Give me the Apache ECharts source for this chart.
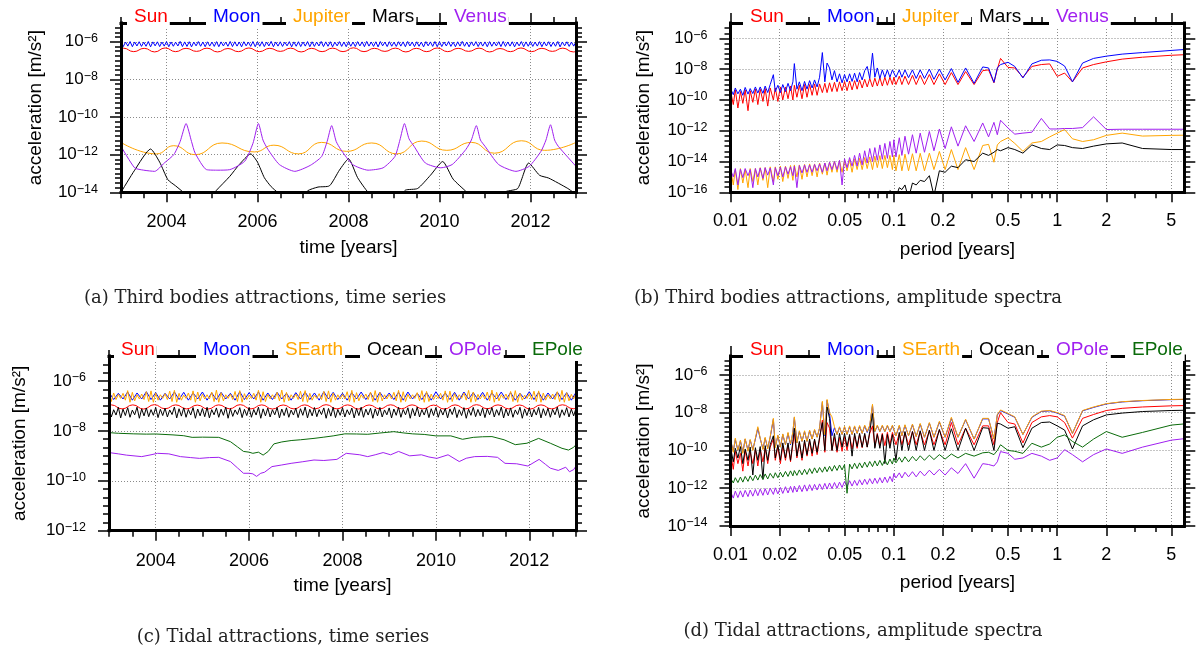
<!DOCTYPE html>
<html>
<head>
<meta charset="utf-8">
<script src="https://cdn.jsdelivr.net/npm/echarts@6/dist/echarts.min.js"></script>
<style>
html,body{margin:0;padding:0;background:#fff;}
#chart{width:1199px;height:653px;}
</style>
</head>
<body>
<div id="chart"></div>
<script>
// ---------------------------------------------------------------------------
// Time series (a) and (c). Fast series are sampled every FAST_DT years from
// 2003.0, the slow Moon trace of (c) every SLOW_DT years.
// ---------------------------------------------------------------------------
const T_START = 2003;
const FAST_DT = 0.05;
const SLOW_DT = 0.1;

// (a) Moon, m/s^2
const moonA = [
  1e-6,5.6e-7,9.7e-7,5.9e-7,1.03e-6,5.5e-7,9.8e-7,6e-7,1.01e-6,5.7e-7,9.6e-7,5.8e-7,1.04e-6,5.4e-7,9.9e-7,6.1e-7,1e-6,5.6e-7,9.7e-7,5.9e-7,
  1.02e-6,5.5e-7,9.8e-7,5.8e-7,9.6e-7,6e-7,1.05e-6,5.6e-7,9.9e-7,5.7e-7,1.01e-6,5.4e-7,9.7e-7,6.1e-7,1.03e-6,5.8e-7,9.8e-7,5.5e-7,1e-6,5.9e-7,
  9.7e-7,5.7e-7,1.02e-6,5.5e-7,9.9e-7,6e-7,9.6e-7,5.8e-7,1.04e-6,5.6e-7,1e-6,5.9e-7,9.8e-7,5.4e-7,1.01e-6,6.1e-7,9.7e-7,5.7e-7,1.03e-6,5.5e-7,
  9.9e-7,5.8e-7,1.01e-6,5.6e-7,9.7e-7,6e-7,1.05e-6,5.5e-7,9.8e-7,5.9e-7,1e-6,5.7e-7,9.6e-7,6.1e-7,1.02e-6,5.4e-7,9.9e-7,5.8e-7,1.01e-6,5.6e-7,
  9.8e-7,5.9e-7,1.03e-6,5.5e-7,1e-6,5.7e-7,9.7e-7,6e-7,1.04e-6,5.6e-7,9.9e-7,5.8e-7,1.01e-6,5.4e-7,9.6e-7,6.1e-7,1.02e-6,5.7e-7,9.8e-7,5.5e-7,
  1e-6,5.8e-7,9.7e-7,5.6e-7,1.02e-6,6e-7,9.9e-7,5.5e-7,1.05e-6,5.9e-7,9.8e-7,5.7e-7,1e-6,5.4e-7,1.03e-6,6.1e-7,9.7e-7,5.6e-7,1.01e-6,5.8e-7,
  9.6e-7,5.7e-7,1.01e-6,5.9e-7,9.9e-7,5.5e-7,1.04e-6,6e-7,9.8e-7,5.6e-7,1e-6,5.8e-7,9.7e-7,5.4e-7,1.02e-6,6.1e-7,9.9e-7,5.7e-7,1.03e-6,5.5e-7,
  1.01e-6,5.6e-7,9.8e-7,6e-7,1.03e-6,5.7e-7,9.6e-7,5.5e-7,1e-6,5.9e-7,1.05e-6,5.8e-7,9.7e-7,5.4e-7,9.9e-7,6.1e-7,1.02e-6,5.6e-7,9.8e-7,5.9e-7,
  9.9e-7,5.5e-7,1.02e-6,5.8e-7,9.7e-7,6e-7,1.01e-6,5.6e-7,1.04e-6,5.7e-7,9.8e-7,5.9e-7,1e-6,5.4e-7,9.6e-7,6.1e-7,1.03e-6,5.5e-7,9.9e-7,5.8e-7,
  1e-6,5.7e-7,9.7e-7,5.9e-7,1.02e-6,5.5e-7,9.9e-7,6e-7,1.01e-6,5.6e-7,9.6e-7,5.8e-7,1.04e-6,5.4e-7,9.8e-7,6.1e-7,1e-6,5.7e-7,9.7e-7,5.9e-7,
  1.01e-6
];

// (a) Sun, [year, m/s^2]
const sunA = [
  [2003.00,4.4e-7],[2003.05,4.6e-7],[2003.28,3.0e-7],[2003.51,4.5e-7],[2003.74,2.9e-7],[2003.97,4.7e-7],[2004.20,3.0e-7],[2004.43,4.5e-7],
  [2004.66,3.1e-7],[2004.89,4.6e-7],[2005.12,2.9e-7],[2005.35,4.4e-7],[2005.58,3.0e-7],[2005.81,4.7e-7],[2006.04,3.0e-7],[2006.27,4.5e-7],
  [2006.50,3.1e-7],[2006.73,4.6e-7],[2006.96,2.9e-7],[2007.19,4.5e-7],[2007.42,3.0e-7],[2007.65,4.6e-7],[2007.88,3.0e-7],[2008.11,4.8e-7],
  [2008.34,3.0e-7],[2008.57,4.5e-7],[2008.80,3.1e-7],[2009.03,4.6e-7],[2009.26,2.9e-7],[2009.49,4.5e-7],[2009.72,3.0e-7],[2009.95,4.7e-7],
  [2010.18,3.0e-7],[2010.41,4.5e-7],[2010.64,3.1e-7],[2010.87,4.6e-7],[2011.10,2.9e-7],[2011.33,4.4e-7],[2011.56,3.0e-7],[2011.79,4.7e-7],
  [2012.02,3.0e-7],[2012.25,4.5e-7],[2012.48,3.1e-7],[2012.71,4.6e-7],[2012.94,2.9e-7],[2013.00,3.1e-7]
];

// (a) Jupiter
const jupiterA = [
  [2003.0,4.5e-12],[2003.78,1.1e-12],[2004.16,3.0e-12],[2004.63,1.0e-12],[2005.22,4.2e-12],[2005.93,1.4e-12],[2006.36,3.2e-12],
  [2006.9,1.1e-12],[2007.41,4.5e-12],[2007.96,1.5e-12],[2008.51,4.2e-12],[2009.06,1.1e-12],[2009.61,5.3e-12],[2010.16,1.7e-12],
  [2010.7,4.5e-12],[2011.21,1.2e-12],[2011.8,5.5e-12],[2012.31,1.7e-12],[2013.0,4.5e-12]
];

// (a) Mars
const marsA = [
  [2003.0,1e-14],[2003.3,1.5e-13],[2003.65,2e-12],[2003.85,4e-13],[2004.03,4.7e-14],[2004.2,2.2e-14],[2004.35,1.1e-14],[2004.5,5e-15],
  [2004.95,5e-15],[2005.1,1.3e-14],[2005.39,7e-14],[2005.6,3e-13],[2005.85,1.1e-12],[2006.0,4e-13],[2006.15,6e-14],[2006.3,2e-14],
  [2006.44,1e-14],[2006.6,5e-15],[2007.0,5e-15],[2007.1,1.2e-14],[2007.33,1.9e-14],[2007.58,2.2e-14],[2007.8,1.5e-13],[2008.0,6e-13],
  [2008.2,6e-14],[2008.43,1e-14],[2008.6,5e-15],[2009.1,5e-15],[2009.25,1.3e-14],[2009.52,1.6e-14],[2009.8,8e-14],[2010.07,4.3e-13],
  [2010.3,5e-14],[2010.6,1e-14],[2010.7,5e-15],[2011.3,5e-15],[2011.46,1.1e-14],[2011.72,1.6e-14],[2011.96,3.6e-13],[2012.2,8e-14],
  [2012.4,5.7e-14],[2012.82,1.6e-14],[2012.94,1e-14],[2013.0,8e-15]
];

// (a) Venus
const venusA = [
  [2003.0,2.8e-12],[2003.3,2e-13],[2003.5,1.5e-13],[2003.74,1.3e-13],[2003.95,3.6e-13],[2004.16,1e-12],[2004.3,5e-12],[2004.43,4.5e-11],
  [2004.55,5e-12],[2004.63,1.2e-12],[2004.88,1.6e-13],[2005.13,1.5e-13],[2005.39,1.6e-13],[2005.72,4.5e-13],[2005.9,4e-12],[2006.02,4.5e-11],
  [2006.12,6e-12],[2006.23,1.9e-12],[2006.48,3e-13],[2006.82,1.3e-13],[2007.16,2.7e-13],[2007.41,8e-13],[2007.53,5e-12],[2007.63,3.5e-11],
  [2007.73,5e-12],[2007.83,1.9e-12],[2008.09,3e-13],[2008.43,1.5e-13],[2008.76,2e-13],[2009.02,8e-13],[2009.13,6e-12],[2009.23,4.5e-11],
  [2009.33,7e-12],[2009.44,2.8e-12],[2009.69,3.6e-13],[2010.03,2e-13],[2010.28,3e-13],[2010.58,1.9e-12],[2010.7,6e-12],[2010.81,3.5e-11],
  [2010.9,6e-12],[2011.0,2.8e-12],[2011.3,3e-13],[2011.68,1.3e-13],[2011.97,2.4e-13],[2012.23,1.5e-12],[2012.34,6e-12],[2012.44,3.9e-11],
  [2012.53,6e-12],[2012.61,2.8e-12],[2013.0,2.4e-13]
];

// (c) Sun
const sunC = [
  [2003.00,1.05e-7],[2003.05,1.1e-7],[2003.28,7.6e-8],[2003.51,1.1e-7],[2003.74,7.5e-8],[2003.97,1.12e-7],[2004.20,7.7e-8],[2004.43,1.1e-7],
  [2004.66,7.6e-8],[2004.89,1.08e-7],[2005.12,7.5e-8],[2005.35,1.1e-7],[2005.58,7.7e-8],[2005.81,1.12e-7],[2006.04,7.6e-8],[2006.27,1.1e-7],
  [2006.50,7.5e-8],[2006.73,1.09e-7],[2006.96,7.6e-8],[2007.19,1.1e-7],[2007.42,7.7e-8],[2007.65,1.12e-7],[2007.88,7.6e-8],[2008.11,1.1e-7],
  [2008.34,7.5e-8],[2008.57,1.09e-7],[2008.80,7.6e-8],[2009.03,1.11e-7],[2009.26,7.7e-8],[2009.49,1.1e-7],[2009.72,7.6e-8],[2009.95,1.08e-7],
  [2010.18,7.5e-8],[2010.41,1.1e-7],[2010.64,7.6e-8],[2010.87,1.12e-7],[2011.10,7.7e-8],[2011.33,1.1e-7],[2011.56,7.6e-8],[2011.79,1.09e-7],
  [2012.02,7.5e-8],[2012.25,1.1e-7],[2012.48,7.6e-8],[2012.71,1.11e-7],[2012.94,7.7e-8],[2013.00,8.2e-8]
];

// (c) Moon, every SLOW_DT years
const moonC = [
  3.5e-7,1.8e-7,3.2e-7,1.9e-7,3.6e-7,1.7e-7,3.3e-7,1.9e-7,3.7e-7,1.8e-7,3.4e-7,1.7e-7,3.2e-7,1.9e-7,3.6e-7,1.8e-7,3.5e-7,1.7e-7,3.3e-7,1.9e-7,
  3.6e-7,1.7e-7,3.3e-7,1.8e-7,3.5e-7,1.9e-7,3.2e-7,1.7e-7,3.7e-7,1.8e-7,3.4e-7,1.9e-7,3.6e-7,1.7e-7,3.3e-7,1.8e-7,3.5e-7,1.9e-7,3.2e-7,1.7e-7,
  3.4e-7,1.9e-7,3.6e-7,1.8e-7,3.3e-7,1.7e-7,3.7e-7,1.9e-7,3.5e-7,1.8e-7,3.2e-7,1.7e-7,3.4e-7,1.9e-7,3.6e-7,1.8e-7,3.3e-7,1.7e-7,3.5e-7,1.9e-7,
  3.3e-7,1.8e-7,3.5e-7,1.7e-7,3.6e-7,1.9e-7,3.2e-7,1.8e-7,3.4e-7,1.7e-7,3.7e-7,1.9e-7,3.3e-7,1.8e-7,3.5e-7,1.7e-7,3.6e-7,1.9e-7,3.4e-7,1.8e-7,
  3.5e-7,1.7e-7,3.3e-7,1.9e-7,3.6e-7,1.8e-7,3.4e-7,1.7e-7,3.2e-7,1.9e-7,3.7e-7,1.8e-7,3.5e-7,1.7e-7,3.3e-7,1.9e-7,3.6e-7,1.8e-7,3.4e-7,1.7e-7,
  3.5e-7
];

// (c) solid Earth tide, every FAST_DT years
const searthC = [
  3.9e-7,1.5e-7,3.3e-7,1.8e-7,2.9e-7,2.0e-7,3.2e-7,1.7e-7,4.1e-7,1.4e-7,3.5e-7,1.6e-7,2.8e-7,1.9e-7,3.0e-7,1.8e-7,3.7e-7,1.5e-7,4.0e-7,1.4e-7,
  3.3e-7,1.7e-7,2.8e-7,2.0e-7,3.1e-7,1.8e-7,3.9e-7,1.5e-7,4.2e-7,1.4e-7,3.2e-7,1.7e-7,2.7e-7,2.0e-7,3.3e-7,1.7e-7,4.0e-7,1.4e-7,3.6e-7,1.6e-7,
  2.9e-7,1.9e-7,2.8e-7,1.9e-7,3.6e-7,1.5e-7,4.3e-7,1.4e-7,3.4e-7,1.6e-7,2.8e-7,2.0e-7,3.0e-7,1.8e-7,3.8e-7,1.5e-7,4.1e-7,1.4e-7,3.1e-7,1.8e-7,
  2.7e-7,2.0e-7,3.2e-7,1.7e-7,4.2e-7,1.4e-7,3.7e-7,1.5e-7,2.9e-7,1.9e-7,2.8e-7,1.9e-7,3.5e-7,1.6e-7,4.3e-7,1.4e-7,3.5e-7,1.6e-7,2.8e-7,2.0e-7,
  3.0e-7,1.8e-7,3.9e-7,1.5e-7,4.1e-7,1.4e-7,3.2e-7,1.7e-7,2.7e-7,2.0e-7,3.1e-7,1.8e-7,3.8e-7,1.5e-7,4.0e-7,1.4e-7,3.3e-7,1.7e-7,2.8e-7,1.9e-7,
  2.9e-7,1.9e-7,3.7e-7,1.5e-7,4.2e-7,1.4e-7,3.4e-7,1.6e-7,2.8e-7,2.0e-7,3.0e-7,1.8e-7,3.6e-7,1.5e-7,4.1e-7,1.4e-7,3.5e-7,1.6e-7,2.8e-7,1.9e-7,
  2.9e-7,1.9e-7,3.5e-7,1.6e-7,4.2e-7,1.4e-7,3.7e-7,1.5e-7,2.9e-7,1.9e-7,2.8e-7,2.0e-7,3.4e-7,1.6e-7,4.1e-7,1.4e-7,3.8e-7,1.5e-7,3.0e-7,1.8e-7,
  2.7e-7,2.0e-7,3.2e-7,1.7e-7,4.0e-7,1.4e-7,3.9e-7,1.5e-7,3.1e-7,1.8e-7,2.8e-7,2.0e-7,3.3e-7,1.7e-7,4.2e-7,1.4e-7,3.6e-7,1.5e-7,2.9e-7,1.9e-7,
  2.8e-7,1.9e-7,3.6e-7,1.6e-7,4.3e-7,1.4e-7,3.5e-7,1.6e-7,2.8e-7,2.0e-7,3.0e-7,1.8e-7,3.8e-7,1.5e-7,4.1e-7,1.4e-7,3.2e-7,1.7e-7,2.7e-7,2.0e-7,
  3.1e-7,1.8e-7,3.9e-7,1.5e-7,4.0e-7,1.4e-7,3.3e-7,1.7e-7,2.8e-7,1.9e-7,3.0e-7,1.8e-7,3.7e-7,1.5e-7,4.2e-7,1.4e-7,3.4e-7,1.6e-7,2.9e-7,1.9e-7,
  3.2e-7
];

// (c) ocean tide, every FAST_DT years
const oceanC = [
  8.2e-8,3.6e-8,7e-8,4.3e-8,8.8e-8,3.3e-8,7.4e-8,4.1e-8,8.5e-8,3.5e-8,6.8e-8,4.4e-8,8.9e-8,3.2e-8,7.6e-8,4e-8,8.3e-8,3.7e-8,7.1e-8,4.2e-8,
  8.7e-8,3.4e-8,7.3e-8,4.1e-8,8.1e-8,3.6e-8,6.9e-8,4.5e-8,9e-8,3.3e-8,7.7e-8,3.9e-8,8.4e-8,3.5e-8,7.2e-8,4.3e-8,8.6e-8,3.2e-8,7.5e-8,4e-8,
  7.9e-8,3.7e-8,8.8e-8,3.3e-8,7.1e-8,4.4e-8,8.3e-8,3.5e-8,7.4e-8,4.2e-8,9e-8,3.2e-8,7.8e-8,3.8e-8,6.9e-8,4.5e-8,8.5e-8,3.4e-8,7.3e-8,4.1e-8,
  8.6e-8,3.5e-8,7.2e-8,4.3e-8,8.9e-8,3.2e-8,7.6e-8,4e-8,8.2e-8,3.6e-8,7e-8,4.4e-8,8.7e-8,3.3e-8,7.5e-8,4.1e-8,8.4e-8,3.5e-8,6.8e-8,4.3e-8,
  8.1e-8,3.4e-8,7.7e-8,4.2e-8,9e-8,3.3e-8,7.3e-8,4e-8,8.6e-8,3.7e-8,7.1e-8,4.5e-8,8.3e-8,3.2e-8,7.9e-8,3.9e-8,8.8e-8,3.4e-8,7.2e-8,4.2e-8,
  8.5e-8,3.6e-8,7e-8,4.4e-8,8.2e-8,3.3e-8,7.8e-8,4.1e-8,8.9e-8,3.5e-8,7.4e-8,4.3e-8,8.1e-8,3.2e-8,7.6e-8,4e-8,8.7e-8,3.6e-8,6.9e-8,4.4e-8,
  8.3e-8,3.3e-8,7.5e-8,4.2e-8,8.8e-8,3.5e-8,7.2e-8,4.4e-8,8.4e-8,3.2e-8,7.9e-8,4e-8,9e-8,3.6e-8,7.1e-8,4.3e-8,8.2e-8,3.4e-8,7.7e-8,4.1e-8,
  8.6e-8,3.5e-8,7.3e-8,4.3e-8,8e-8,3.3e-8,7.6e-8,4.5e-8,8.9e-8,3.4e-8,7e-8,4.1e-8,8.5e-8,3.2e-8,7.4e-8,4.2e-8,8.7e-8,3.7e-8,7.2e-8,4e-8,
  8.2e-8,3.4e-8,7.8e-8,4.4e-8,8.6e-8,3.6e-8,7.1e-8,4.2e-8,9e-8,3.3e-8,7.5e-8,4e-8,8.3e-8,3.5e-8,6.9e-8,4.5e-8,8.8e-8,3.2e-8,7.6e-8,4.1e-8,
  8.4e-8,3.6e-8,7.2e-8,4.3e-8,8.7e-8,3.3e-8,7.7e-8,4.1e-8,8.1e-8,3.5e-8,7.3e-8,4.4e-8,8.9e-8,3.4e-8,7e-8,4.2e-8,8.5e-8,3.6e-8,7.4e-8,4e-8,
  8e-8
];

// (c) ocean pole tide
const opoleC = [
  [2003.0,1.35e-9],[2003.2,1.2e-9],[2003.37,1.07e-9],[2003.7,9.3e-10],[2003.9,1.1e-9],[2004.04,1.26e-9],[2004.28,1.2e-9],[2004.53,9.3e-10],
  [2004.75,8.5e-10],[2004.94,7.9e-10],[2005.15,8.5e-10],[2005.35,8.7e-10],[2005.6,5.9e-10],[2005.75,3.3e-10],[2005.88,2e-10],[2006.0,2e-10],
  [2006.08,1.9e-10],[2006.16,1.5e-10],[2006.25,2e-10],[2006.33,2.2e-10],[2006.49,3.7e-10],[2006.7,4.3e-10],[2006.9,5e-10],[2007.15,5.8e-10],
  [2007.39,6.8e-10],[2007.6,6.5e-10],[2007.88,7.2e-10],[2008.08,1.26e-9],[2008.37,1.1e-9],[2008.54,9.3e-10],[2008.7,1.1e-9],[2008.87,1.35e-9],
  [2009.03,1.1e-9],[2009.2,1.5e-9],[2009.44,1e-9],[2009.69,1.1e-9],[2009.85,9e-10],[2010.02,7.9e-10],[2010.26,1.1e-9],[2010.5,5.9e-10],
  [2010.65,8e-10],[2010.83,9.3e-10],[2011.1,9.5e-10],[2011.32,8.7e-10],[2011.48,5e-10],[2011.73,4.8e-10],[2011.97,3.9e-10],[2012.21,7.2e-10],
  [2012.35,4.5e-10],[2012.45,3.2e-10],[2012.62,2.6e-10],[2012.78,3.5e-10],[2012.86,2.3e-10],[2012.95,2.8e-10],[2013.0,3.9e-10]
];

// (c) solid Earth pole tide
const epoleC = [
  [2003.0,8.5e-9],[2003.2,8.0e-9],[2003.53,7.6e-9],[2003.8,7.4e-9],[2004.0,7.5e-9],[2004.37,6.9e-9],[2004.6,6.4e-9],[2004.78,5.5e-9],
  [2005.0,5.6e-9],[2005.35,5.5e-9],[2005.6,3.7e-9],[2005.75,2.3e-9],[2005.88,1.5e-9],[2006.0,1.4e-9],[2006.08,1.26e-9],[2006.2,1.4e-9],
  [2006.3,1.07e-9],[2006.41,1.5e-9],[2006.53,3e-9],[2006.7,3.6e-9],[2006.9,4.1e-9],[2007.1,4.4e-9],[2007.39,5e-9],[2007.6,5.6e-9],
  [2007.8,6.3e-9],[2008.05,7.6e-9],[2008.3,7.5e-9],[2008.54,7.3e-9],[2008.8,8.2e-9],[2009.1,9.3e-9],[2009.3,8.3e-9],[2009.5,7.6e-9],
  [2009.75,7.2e-9],[2010.0,6.3e-9],[2010.32,6.3e-9],[2010.57,4.6e-9],[2010.8,5.5e-9],[2011.0,5.8e-9],[2011.2,5.9e-9],[2011.46,4.4e-9],
  [2011.7,2.8e-9],[2011.95,3.2e-9],[2012.2,5e-9],[2012.45,3.2e-9],[2012.7,2e-9],[2012.84,1.7e-9],[2012.95,2.2e-9],[2013.0,2.8e-9]
];

// ---------------------------------------------------------------------------
// Amplitude spectra (b) and (d): periods in years, shared by every series.
// ---------------------------------------------------------------------------
const PERIOD_FINE = [
  0.0100,0.0104,0.0107,0.0111,0.0115,0.0119,0.0123,0.0128,0.0132,0.0137,0.0142,
  0.0147,0.0152,0.0158,0.0163,0.0169,0.0175,0.0183,0.0188,0.0195,0.0202,0.0209,
  0.0217,0.0225,0.0233,0.0241,0.0246,0.0255,0.0264,0.0274,0.0284,0.0294,0.0305,
  0.0316,0.0327,0.0339,0.0351,0.0365,0.0378,0.0390,0.0404,0.0418,0.0433,0.0449,
  0.0465,0.0482,0.0499,0.0517,0.0536,0.0555,0.0575,0.0596,0.0617,0.0640,0.0663,
  0.0687,0.0712,0.0740,0.0765,0.0792,0.0821,0.0850,0.0881,0.0913,0.0946,0.0980
];
const PERIOD_COARSE = [
  0.100,0.103,0.108,0.112,0.117,0.123,0.130,0.137,0.145,0.154,
  0.165,0.176,0.190,0.206,0.225,0.247,0.275,0.310,0.350,0.380,
  0.410,0.430,0.450,0.500,0.550,0.617,0.700,0.800,0.900,1.000,
  1.110,1.240,1.430,1.670,2.000,2.500,3.330,5.000,10.00
];

// (b) third bodies
const sunB_fine = [
  4e-10,5e-11,4.5e-10,3e-11,3.5e-10,6e-11,4.5e-10,2e-11,4e-10,7e-11,5e-10,
  5e-11,5e-10,8e-11,5.5e-10,4e-11,6e-10,1e-10,6e-10,8e-11,7e-10,1e-10,
  7e-10,1.2e-10,8e-10,1e-10,9e-10,1.5e-10,9e-10,1.2e-10,1e-9,1.5e-10,1e-9,
  2e-10,1.1e-9,2e-10,1.1e-9,3e-10,1.2e-9,3e-10,1.3e-9,3.5e-10,1.4e-9,3.5e-10,
  1.5e-9,4e-10,1.6e-9,4e-10,1.7e-9,4.5e-10,1.8e-9,5e-10,2e-9,6e-10,2.2e-9,
  7e-10,2.5e-9,7e-10,2.6e-9,8e-10,2.8e-9,8e-10,3e-9,9e-10,3e-9,1e-9
];
const sunB_coarse = [
  3e-9,1e-9,3.5e-9,1e-9,3.5e-9,1e-9,4e-9,1e-9,4e-9,1e-9,
  4.5e-9,1e-9,5e-9,1e-9,6e-9,1e-9,7e-9,1e-9,8e-9,9e-9,
  1.3e-9,1e-8,5e-8,1.3e-8,1.2e-8,3e-9,1.5e-8,2e-8,2.2e-8,3.4e-9,
  5.6e-9,1.5e-9,1.2e-8,2e-8,3e-8,4.5e-8,6e-8,8e-8,1.1e-7
];
const moonB_fine = [
  5.5e-10,2.2e-10,6e-10,2.5e-10,5e-10,2e-10,6.5e-10,2.4e-10,5.5e-10,2.6e-10,7e-10,
  2.8e-10,7e-10,2.7e-10,8e-10,3e-10,1e-9,4.4e-9,3.5e-10,9e-10,3e-10,1e-9,
  3.5e-10,1.2e-9,4e-10,1.5e-9,2.3e-8,5e-10,1.5e-9,4e-10,1.6e-9,5e-10,1.8e-9,
  6e-10,2e-9,7e-10,3e-9,1.2e-7,1.5e-9,2.5e-8,1.2e-8,2e-9,8e-9,1.5e-9,
  5e-9,1.3e-9,4.5e-9,1.5e-9,5e-9,1.6e-9,5.5e-9,1.5e-9,6e-9,2e-9,8e-9,
  1.5e-8,2.5e-9,1.1e-7,3e-9,1.2e-8,2.5e-9,9e-9,3e-9,9e-9,3e-9,9e-9
];
const moonB_coarse = [
  8e-9,3e-9,9e-9,3e-9,9e-9,2.8e-9,9e-9,2.5e-9,9e-9,2.5e-9,
  1e-8,2.2e-9,1e-8,2e-9,1.1e-8,1.4e-9,1.2e-8,1.2e-9,1.4e-8,1.2e-8,
  1.4e-9,1.2e-8,2e-8,2.8e-8,1.5e-8,2.7e-9,2.2e-8,3.8e-8,4e-8,3.2e-8,
  1.6e-8,1.5e-9,2.5e-8,5e-8,7e-8,9.5e-8,1.2e-7,1.65e-7,2.8e-7
];
const jupiterB_fine = [
  3.5e-15,3e-16,3e-15,1.5e-16,3.5e-15,4e-16,3e-15,2e-16,3.5e-15,5e-16,3.5e-15,
  3e-16,4e-15,6e-16,4e-15,2e-16,4.5e-15,5e-16,4.5e-15,7e-16,5e-15,5e-16,
  5e-15,8e-16,5.5e-15,6e-16,6e-15,1e-15,6e-15,7e-16,6.5e-15,1e-15,7e-15,
  1.2e-15,7e-15,1e-15,8e-15,1.5e-15,8e-15,1.3e-15,9e-15,2e-15,1e-14,2e-15,
  1.1e-14,2e-15,1.2e-14,2.5e-15,1.3e-14,2e-15,1.5e-14,3e-15,1.6e-14,3e-15,1.8e-14,
  3.5e-15,2e-14,3e-15,2.2e-14,4e-15,2.4e-14,3.5e-15,2.5e-14,4e-15,2.5e-14,3e-15
];
const jupiterB_coarse = [
  2.5e-14,2.5e-15,2.8e-14,2.5e-15,3e-14,2.5e-15,3.2e-14,2.5e-15,3.4e-14,2.5e-15,
  3.5e-14,3e-15,4.5e-14,3e-15,6e-14,3e-15,8e-14,3e-15,1.1e-13,1.3e-13,
  9e-15,1.2e-13,2e-13,3.5e-13,1.5e-13,4.6e-14,1.6e-13,2e-13,4e-13,7e-13,
  1.2e-12,3e-13,2e-13,2.6e-13,5e-13,7e-13,4.5e-13,5e-13,5.5e-13
];
const marsB_fine = [
  5e-17,5e-17,5e-17,5e-17,5e-17,5e-17,5e-17,5e-17,5e-17,5e-17,5e-17,
  5e-17,5e-17,5e-17,5e-17,5e-17,5e-17,5e-17,5e-17,5e-17,5e-17,5e-17,
  5e-17,5e-17,5e-17,5e-17,5e-17,5e-17,5e-17,5e-17,5e-17,5e-17,5e-17,
  5e-17,5e-17,5e-17,5e-17,5e-17,5e-17,5e-17,5e-17,5e-17,5e-17,5e-17,
  5e-17,5e-17,5e-17,5e-17,5e-17,5e-17,5e-17,5e-17,5e-17,8e-17,1.05e-16,
  6e-17,5e-17,8e-17,5e-17,7e-17,1.1e-16,6e-17,1.2e-16,8e-17,1.3e-16,9e-17
];
const marsB_coarse = [
  1.2e-16,5e-17,2e-16,1.5e-16,3e-16,4e-17,4e-16,3e-16,6e-16,5e-16,
  1.2e-15,6e-17,2.5e-15,2e-15,5e-15,4e-15,1.3e-14,1e-14,3.5e-14,2.5e-14,
  4e-14,6e-14,5e-14,8e-14,6e-14,3.5e-14,1.2e-13,7e-14,6e-14,1.2e-13,
  1.1e-13,8e-14,7e-14,1e-13,1.4e-13,1.6e-13,7e-14,6e-14,6e-14
];
const venusB_fine = [
  3e-15,1e-15,3.5e-15,3e-16,3.2e-15,9e-16,3.5e-15,1.2e-15,3e-15,2e-16,3.5e-15,
  1e-15,3.8e-15,8e-16,4e-15,1.3e-15,3.8e-15,3e-16,4e-15,1.2e-15,4.2e-15,1e-15,
  4.5e-15,1.5e-15,4.5e-15,1.2e-15,5e-15,2e-16,5.5e-15,1.8e-15,6e-15,2e-15,6e-15,
  2e-15,6.5e-15,2.5e-15,7e-15,2e-15,8e-15,2.5e-15,9e-15,3e-15,1e-14,3e-15,
  1.2e-14,3e-16,1.5e-14,4e-15,1.8e-14,5e-15,2.5e-14,5e-15,3.5e-14,6e-15,5e-14,
  8e-15,7e-14,1e-14,8e-14,1.2e-14,1.2e-13,1.4e-14,1.5e-13,1.6e-14,2e-13,2e-14
];
const venusB_coarse = [
  2.6e-13,2e-14,3.5e-13,2.5e-14,4.4e-13,3e-14,5.5e-13,3.5e-14,7e-13,4e-14,
  9e-13,5e-14,1.3e-12,7e-14,1.8e-12,1e-13,2.1e-12,2e-13,3.2e-12,4e-13,
  3.5e-12,5.5e-13,4.8e-12,1.5e-12,6e-13,7e-13,8e-13,6.3e-12,1.3e-12,1.3e-12,
  1.4e-12,1.4e-12,1.6e-12,8e-12,1.2e-12,1.25e-12,1.25e-12,1.25e-12,1.25e-12
];

// (d) tidal attractions
const sunD_fine = [
  8e-11,1e-11,9e-11,2e-11,7e-11,8e-12,1e-10,1.5e-11,8e-11,2e-11,1.1e-10,
  1.5e-11,1.2e-10,2.5e-11,1.3e-10,2e-11,1.5e-10,4e-10,3e-11,1.6e-10,2e-11,1.8e-10,
  3e-11,2e-10,2.5e-11,2.2e-10,8e-10,4e-11,2.5e-10,3e-11,2.8e-10,5e-11,3e-10,
  5e-11,3.5e-10,6e-11,4e-10,4e-9,8e-11,3e-9,1.5e-9,1e-10,5e-10,8e-11,
  5e-10,9e-11,5.5e-10,1e-10,6e-10,1.2e-10,6e-10,1.3e-10,7e-10,1.4e-10,7e-10,
  1.5e-10,8e-10,2e-9,1.6e-10,8e-10,1.8e-10,8e-10,1.8e-10,9e-10,2e-10,9e-10
];
const sunD_coarse = [
  8e-10,2e-10,8e-10,2e-10,9e-10,2e-10,1e-9,2e-10,1e-9,2e-10,
  1.1e-9,2e-10,1.2e-9,2e-10,3e-9,2e-10,1.5e-9,2e-10,2e-9,2e-9,
  2e-10,3e-9,1e-8,3e-9,2.5e-9,2.5e-10,3e-9,6e-9,7e-9,6e-9,
  3e-9,4.5e-10,5e-9,8e-9,1.3e-8,1.7e-8,2e-8,2.3e-8,2.6e-8
];
const moonD_fine = [
  3.5e-10,9e-11,3.8e-10,1e-10,3.2e-10,8e-11,4e-10,1e-10,3.6e-10,1.1e-10,4e-10,
  1.5e-9,4.2e-10,1.2e-10,4.5e-10,1.3e-10,5e-10,4.5e-9,1.5e-10,6e-10,1.5e-10,7e-10,
  2e-10,8e-10,2e-10,9e-10,5.5e-9,2.5e-10,1e-9,3e-10,1e-9,3e-10,1.1e-9,
  4e-10,1.2e-9,5e-10,1.5e-9,3.5e-8,6e-10,4.5e-8,9e-9,6e-10,1.6e-9,7e-10,
  1.7e-9,7e-10,1.7e-9,7e-10,1.8e-9,7e-10,1.8e-9,8e-10,1.9e-9,8e-10,2e-9,
  9e-10,2e-9,2.5e-8,1e-9,2e-9,1e-9,2e-9,1e-9,2e-9,1e-9,2e-9
];
const moonD_coarse = [
  1.8e-9,6e-10,2e-9,6e-10,2.1e-9,6e-10,2.3e-9,5.5e-10,2.5e-9,5e-10,
  2.8e-9,5e-10,3.2e-9,5e-10,5e-9,5e-10,4.2e-9,4e-10,4.7e-9,4.7e-9,
  4e-10,7.5e-9,1.3e-8,8.5e-9,5.7e-9,7e-10,5.7e-9,1.15e-8,1.25e-8,9.5e-9,
  6.6e-9,8e-10,1.25e-8,1.9e-8,2.9e-8,3.7e-8,4.3e-8,4.9e-8,5.4e-8
];
const searthD_fine = [
  4e-10,8e-11,4.5e-10,1e-10,3.5e-10,7e-11,4.2e-10,9e-11,3.8e-10,1e-10,4.5e-10,
  1.8e-9,4.5e-10,1.1e-10,5e-10,1.2e-10,5.5e-10,5e-9,1.4e-10,6.5e-10,1.5e-10,7.5e-10,
  2e-10,9e-10,2.2e-10,1e-9,6e-9,2.5e-10,1.1e-9,3e-10,1.1e-9,3e-10,1.2e-9,
  4e-10,1.3e-9,5e-10,1.6e-9,4e-8,6.6e-10,5e-8,1e-8,6e-9,1.8e-9,7e-10,
  1.8e-9,7e-10,1.9e-9,7e-10,2e-9,7e-10,2e-9,8e-10,2.1e-9,8e-10,2.2e-9,
  1e-9,2.2e-9,2.8e-8,1e-9,2.2e-9,1e-9,2.2e-9,1e-9,2.2e-9,1e-9,2.2e-9
];
const searthD_coarse = [
  2e-9,6e-10,2.2e-9,6e-10,2.3e-9,6e-10,2.5e-9,5.5e-10,2.7e-9,5e-10,
  3e-9,5e-10,3.5e-9,5e-10,5.7e-9,5e-10,4.5e-9,4e-10,5e-9,5e-9,
  4e-10,8e-9,1.4e-8,9e-9,6e-9,7e-10,6e-9,1.2e-8,1.3e-8,1e-8,
  7e-9,8e-10,1.3e-8,2e-8,3e-8,3.8e-8,4.4e-8,5e-8,5.5e-8
];
const oceanD_fine = [
  1.5e-10,2.5e-11,1.3e-10,4e-11,1.6e-10,2e-11,1.2e-10,3e-11,1.5e-10,5e-12,1.4e-10,
  3e-11,1.6e-10,3e-12,1.8e-10,3e-11,2e-10,6e-10,4e-11,2e-10,3e-11,2.5e-10,
  4e-11,2.5e-10,3e-11,3e-10,1.5e-9,5e-11,3e-10,4e-11,3.5e-10,6e-11,4e-10,
  7e-11,4e-10,8e-11,5e-10,3e-9,1e-10,2e-8,5e-9,1e-10,8e-10,1e-10,
  8e-10,1.5e-10,8e-10,1.6e-10,7e-10,5e-11,8e-10,1.6e-10,8e-10,1.5e-10,8e-10,
  1.5e-10,1e-9,9e-9,1.3e-10,7e-10,1.3e-10,7e-10,2e-11,7e-10,1.3e-10,7e-10
];
const oceanD_coarse = [
  8e-10,3e-11,9e-10,1e-10,1e-9,1e-10,1e-9,1e-10,1.1e-9,1e-10,
  1.2e-9,1e-10,1.3e-9,1e-10,1.4e-9,1e-10,1.5e-9,1e-10,1.6e-9,1.5e-9,
  1e-10,2.8e-9,2.5e-9,1.5e-9,1.8e-9,1.4e-10,1.5e-9,3e-9,3.2e-9,2e-9,
  1.2e-9,1.2e-10,2e-9,4.2e-9,7.6e-9,9.5e-9,1.15e-8,1.3e-8,1.45e-8
];
const opoleD_fine = [
  6.6e-13,3e-13,7e-13,3.2e-13,7.3e-13,3.4e-13,7.7e-13,3.6e-13,8e-13,3.8e-13,8.6e-13,
  4e-13,9e-13,4.2e-13,9.5e-13,4.4e-13,1e-12,4.7e-13,1.05e-12,5e-13,1.1e-12,5.3e-13,
  1.2e-12,5.6e-13,1.25e-12,6e-13,1.3e-12,6.3e-13,1.4e-12,6.6e-13,1.5e-12,7e-13,1.55e-12,
  7.5e-13,1.6e-12,8e-13,1.7e-12,8.5e-13,1.8e-12,9e-13,1.9e-12,9.5e-13,2e-12,1e-12,
  2.1e-12,1.1e-12,2.3e-12,1.2e-12,2.5e-12,1.3e-12,2.6e-12,1.4e-12,2.8e-12,1.5e-12,3e-12,
  1.6e-12,3.2e-12,1.7e-12,3.4e-12,1.8e-12,3.6e-12,1.9e-12,3.9e-12,2e-12,4.2e-12,2.2e-12
];
const opoleD_coarse = [
  6e-12,3.5e-12,6.5e-12,3.5e-12,7e-12,4e-12,7.5e-12,4e-12,8e-12,4.5e-12,
  9e-12,5e-12,1e-11,5e-12,1.2e-11,6e-12,2e-11,3.4e-12,2e-11,1.8e-11,
  1.5e-11,2.5e-11,8.7e-11,7e-11,3.4e-11,4e-11,7e-11,5e-11,3e-11,4e-11,
  1.1e-10,6e-11,2.5e-11,6e-11,1.2e-10,7e-11,1.5e-10,3.5e-10,7e-10
];
const epoleD_fine = [
  3.4e-12,1.9e-12,3.6e-12,2e-12,3.9e-12,2.1e-12,4.2e-12,2.3e-12,4.5e-12,2.5e-12,4.9e-12,
  2.7e-12,5.3e-12,2.9e-12,5.7e-12,3.1e-12,6.1e-12,3.4e-12,6.6e-12,3.6e-12,7e-12,3.9e-12,
  7.7e-12,4.2e-12,8.3e-12,4.5e-12,8.6e-12,4.8e-12,9.3e-12,5.1e-12,1e-11,5.4e-12,1.1e-11,
  6e-12,1.2e-11,6.5e-12,1.25e-11,7e-12,1.35e-11,7.5e-12,1.45e-11,8e-12,1.6e-11,8.7e-12,
  1.7e-11,9.3e-12,1.8e-11,5.4e-13,1.9e-11,1.05e-11,2.1e-11,1.1e-11,2.2e-11,1.2e-11,2.4e-11,
  1.3e-11,2.6e-11,1.4e-11,2.8e-11,1.5e-11,3e-11,1.6e-11,3.2e-11,1.7e-11,3.5e-11,1.9e-11
];
const epoleD_coarse = [
  4e-11,2.2e-11,4.3e-11,2.4e-11,4.6e-11,2.5e-11,4.8e-11,2.8e-11,5.2e-11,3e-11,
  5.6e-11,3.3e-11,6e-11,3.5e-11,6.5e-11,4e-11,7e-11,5e-11,7.5e-11,8e-11,
  6e-11,1e-10,2e-10,1e-10,9e-11,7e-11,2.4e-10,1.5e-10,2.2e-10,5e-10,
  6.6e-10,3e-10,1.5e-10,4e-10,1e-9,5e-10,9e-10,2.2e-9,3.8e-9
];

// ---------------------------------------------------------------------------
// Axis ticks and labels
// ---------------------------------------------------------------------------
const YEAR_MAJOR = [2004, 2006, 2008, 2010, 2012];
const YEAR_MINOR = [2003, 2003.5, 2004.5, 2005, 2005.5, 2006.5, 2007, 2007.5, 2008.5,
                    2009, 2009.5, 2010.5, 2011, 2011.5, 2012.5, 2013];
const PERIOD_MAJOR = [0.01, 0.02, 0.05, 0.1, 0.2, 0.5, 1, 2, 5];
const PERIOD_MINOR = [0.03, 0.04, 0.06, 0.07, 0.08, 0.09, 0.3, 0.4, 0.6, 0.7, 0.8, 0.9, 3, 4];

// ---------------------------------------------------------------------------
const SANS = '"Liberation Sans", Arial, Helvetica, sans-serif';
const SERIF = '"DejaVu Serif", "Liberation Serif", serif';
const COLOR = {
  Sun: '#ff0000', Moon: '#0000ff', Jupiter: '#ffa500', Mars: '#000000', Venus: '#a020f0',
  SEarth: '#ffa500', Ocean: '#000000', OPole: '#a020f0', EPole: '#0b6b0b'
};

function sampled(t0, dt, vals) {
  return vals.map((v, i) => [+(t0 + i * dt).toFixed(3), v]);
}
function spectrum(fine, coarse) {
  const out = [];
  PERIOD_FINE.forEach((p, i) => { if (fine[i] !== undefined) out.push([p, fine[i]]); });
  PERIOD_COARSE.forEach((p, i) => { if (coarse[i] !== undefined) out.push([p, coarse[i]]); });
  return out;
}

const PANELS = [
  { grid: {left: 121, top: 23, width: 455, height: 169.3}, kind: 'time',
    yMin: -14, yMax: -5, yStep: 0.25, yLabelMargin: 23, yNameGap: 76, xLabelMargin: 21, xNameGap: 46,
    legendTop: 6, legend: [['Sun', 134], ['Moon', 213], ['Jupiter', 293], ['Mars', 372], ['Venus', 454]],
    series: [
      ['Sun', sunA, 0.5], ['Moon', sampled(T_START, FAST_DT, moonA), 0],
      ['Jupiter', jupiterA, 0.5], ['Mars', marsA, 0.2], ['Venus', venusA, 0.2]
    ] },
  { grid: {left: 730.5, top: 23, width: 453.8, height: 169.3}, kind: 'period',
    yMin: -16, yMax: -5, yStep: 1 / 3, yLabelMargin: 23, yNameGap: 77, xLabelMargin: 20, xNameGap: 48,
    legendTop: 6, legend: [['Sun', 750], ['Moon', 827], ['Jupiter', 902], ['Mars', 979], ['Venus', 1056]],
    series: [
      ['Sun', spectrum(sunB_fine, sunB_coarse), 0], ['Moon', spectrum(moonB_fine, moonB_coarse), 0],
      ['Jupiter', spectrum(jupiterB_fine, jupiterB_coarse), 0], ['Mars', spectrum(marsB_fine, marsB_coarse), 0],
      ['Venus', spectrum(venusB_fine, venusB_coarse), 0]
    ] },
  { grid: {left: 109, top: 356, width: 467, height: 174.7}, kind: 'time',
    yMin: -12, yMax: -5, yStep: 1 / 3, yLabelMargin: 23, yNameGap: 80, xLabelMargin: 21, xNameGap: 46,
    legendTop: 339, legend: [['Sun', 121], ['Moon', 203], ['SEarth', 285], ['Ocean', 367], ['OPole', 449], ['EPole', 532]],
    series: [
      ['Sun', sunC, 0.5], ['Moon', sampled(T_START, SLOW_DT, moonC), 0],
      ['SEarth', sampled(T_START, FAST_DT, searthC), 0], ['Ocean', sampled(T_START, FAST_DT, oceanC), 0],
      ['OPole', opoleC, 0], ['EPole', epoleC, 0]
    ] },
  { grid: {left: 730.5, top: 356, width: 453.8, height: 170}, kind: 'period',
    yMin: -14, yMax: -5, yStep: 0.25, yLabelMargin: 23, yNameGap: 77, xLabelMargin: 20, xNameGap: 47,
    legendTop: 339, legend: [['Sun', 750], ['Moon', 827], ['SEarth', 902], ['Ocean', 979], ['OPole', 1056], ['EPole', 1132]],
    series: [
      ['Sun', spectrum(sunD_fine, sunD_coarse), 0], ['Moon', spectrum(moonD_fine, moonD_coarse), 0],
      ['SEarth', spectrum(searthD_fine, searthD_coarse), 0], ['Ocean', spectrum(oceanD_fine, oceanD_coarse), 0],
      ['OPole', spectrum(opoleD_fine, opoleD_coarse), 0], ['EPole', spectrum(epoleD_fine, epoleD_coarse), 0]
    ] }
];

const TICK_STYLE = {color: '#000', width: 1.5};
const FRAME = {show: true, onZero: false, lineStyle: {color: '#000', width: 3, cap: 'square'}};
const NO_LINE = {show: false, onZero: false};
const GRID_LINE = {show: true, lineStyle: {color: '#8a8a8a', width: 1, type: [1, 2]}};
const OFF = {show: false};

function xAxesFor(p, gi) {
  const time = p.kind === 'time';
  const base = time ? {type: 'value', min: 2003, max: 2013}
                    : {type: 'log', logBase: 10, min: 0.01, max: 6};
  const major = time ? YEAR_MAJOR : PERIOD_MAJOR;
  const minor = time ? YEAR_MINOR : PERIOD_MINOR;
  return [
    Object.assign({}, base, {
      gridIndex: gi, position: 'bottom', z: 0, axisLine: NO_LINE,
      axisTick: {show: true, length: 10, customValues: major, lineStyle: TICK_STYLE},
      axisLabel: {show: true, customValues: major, formatter: v => String(v), margin: p.xLabelMargin,
                  fontSize: 18, fontFamily: SANS, color: '#000'},
      splitLine: GRID_LINE,
      name: time ? 'time [years]' : 'period [years]', nameLocation: 'middle', nameGap: p.xNameGap,
      nameTextStyle: {fontSize: 19, fontFamily: SANS, color: '#000'}
    }),
    Object.assign({}, base, {
      gridIndex: gi, position: 'bottom', z: 3, axisLine: FRAME,
      axisTick: {show: true, length: 6, customValues: minor, lineStyle: TICK_STYLE},
      axisLabel: OFF, splitLine: OFF
    }),
    Object.assign({}, base, {
      gridIndex: gi, position: 'top', z: 3, axisLine: FRAME,
      axisTick: {show: true, length: 10, customValues: major, lineStyle: TICK_STYLE},
      axisLabel: OFF, splitLine: OFF
    }),
    Object.assign({}, base, {
      gridIndex: gi, position: 'top', z: 3, axisLine: NO_LINE,
      axisTick: {show: true, length: 6, customValues: minor, lineStyle: TICK_STYLE},
      axisLabel: OFF, splitLine: OFF
    })
  ];
}

function yAxesFor(p, gi) {
  const base = {type: 'log', logBase: 10, min: Number('1e' + p.yMin), max: Number('1e' + p.yMax)};
  const major = [];
  for (let e = p.yMin; e < p.yMax; e += 2) major.push(Number('1e' + e));
  const minor = [];
  const n = Math.round((p.yMax - p.yMin) / p.yStep);
  for (let k = 1; k < n; k++) {
    const e = p.yMin + k * p.yStep;
    const r = Math.round(e);
    if (Math.abs(e - r) < 1e-6 && (r - p.yMin) % 2 === 0) continue;
    minor.push(Math.pow(10, e));
  }
  return [
    Object.assign({}, base, {
      gridIndex: gi, position: 'left', z: 0, axisLine: NO_LINE,
      axisTick: {show: true, length: 11, customValues: major, lineStyle: TICK_STYLE},
      axisLabel: {show: true, customValues: major, margin: p.yLabelMargin,
                  formatter: v => '10{s|\u2212' + Math.round(-Math.log10(v)) + '}',
                  fontSize: 17, lineHeight: 19, fontFamily: SANS, color: '#000',
                  rich: {s: {fontSize: 12.5, lineHeight: 12, verticalAlign: 'top', fontFamily: SANS, color: '#000'}}},
      splitLine: GRID_LINE,
      name: 'acceleration [m/s\u00b2]', nameLocation: 'middle', nameGap: p.yNameGap,
      nameTextStyle: {fontSize: 19, fontFamily: SANS, color: '#000'}
    }),
    Object.assign({}, base, {
      gridIndex: gi, position: 'left', z: 3, axisLine: FRAME,
      axisTick: {show: true, length: 6, customValues: minor, lineStyle: TICK_STYLE},
      axisLabel: OFF, splitLine: OFF
    }),
    Object.assign({}, base, {
      gridIndex: gi, position: 'right', z: 3, axisLine: FRAME,
      axisTick: {show: true, length: 11, customValues: major, lineStyle: TICK_STYLE},
      axisLabel: OFF, splitLine: OFF
    }),
    Object.assign({}, base, {
      gridIndex: gi, position: 'right', z: 3, axisLine: NO_LINE,
      axisTick: {show: true, length: 6, customValues: minor, lineStyle: TICK_STYLE},
      axisLabel: OFF, splitLine: OFF
    })
  ];
}

const grid = [], xAxis = [], yAxis = [], series = [], legend = [];
PANELS.forEach((p, gi) => {
  grid.push(Object.assign({outerBoundsMode: 'none', containLabel: false}, p.grid));
  xAxis.push(...xAxesFor(p, gi));
  yAxis.push(...yAxesFor(p, gi));
  p.series.forEach(([name, data, smooth]) => {
    series.push({
      type: 'line', name, data, xAxisIndex: gi * 4, yAxisIndex: gi * 4,
      symbol: 'none', showSymbol: false, smooth: smooth || false, clip: true, silent: true,
      lineStyle: {color: COLOR[name], width: 1}, itemStyle: {color: COLOR[name]}, z: 2
    });
  });
  p.legend.forEach(([name, x]) => {
    legend.push({
      show: true, data: [{name, textStyle: {color: COLOR[name]}}],
      left: x - 7, top: p.legendTop, orient: 'horizontal',
      icon: 'rect', itemWidth: 0, itemHeight: 0, itemGap: 0,
      padding: [0, 2, 0, 2], backgroundColor: '#fff', selectedMode: false, z: 6,
      textStyle: {fontSize: 19, lineHeight: 22, fontFamily: SANS}
    });
  });
});

const CAPTIONS = [
  ['(a) Third bodies attractions, time series', 265, 298],
  ['(b) Third bodies attractions, amplitude spectra', 848, 298],
  ['(c) Tidal attractions, time series', 283, 637],
  ['(d) Tidal attractions, amplitude spectra', 863, 631]
];

const chart = echarts.init(document.getElementById('chart'), null, {renderer: 'canvas'});
chart.setOption({
  animation: false,
  backgroundColor: '#fff',
  grid, xAxis, yAxis, series, legend,
  tooltip: {show: false},
  graphic: CAPTIONS.map(([text, x, y]) => ({
    type: 'text', x, y, z: 10, silent: true,
    style: {text, font: '18px ' + SERIF, fill: '#222',
            align: 'center', verticalAlign: 'middle', textAlign: 'center', textVerticalAlign: 'middle'}
  }))
});
</script>
</body>
</html>
